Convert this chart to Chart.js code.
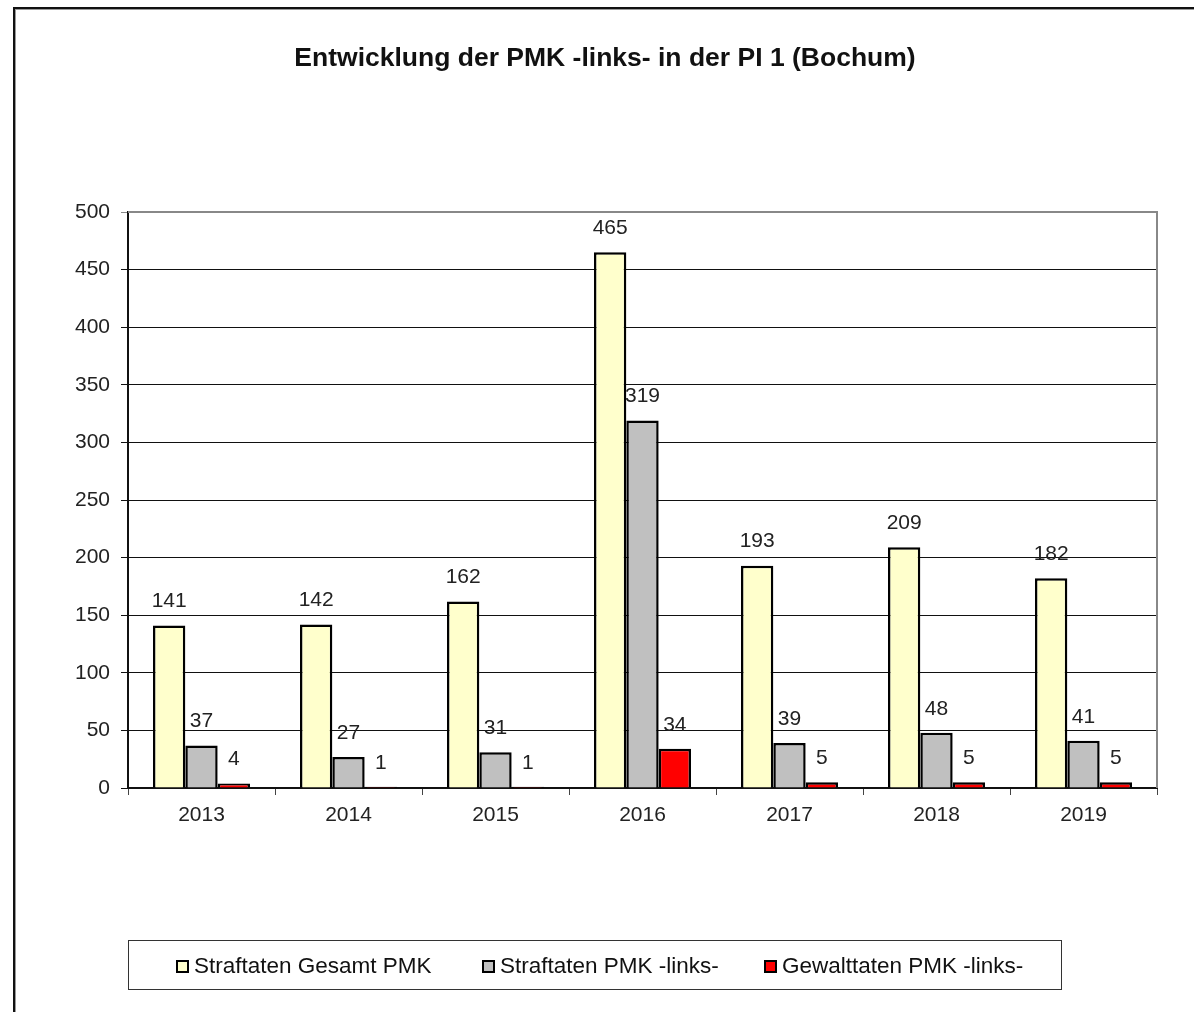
<!DOCTYPE html>
<html>
<head>
<meta charset="utf-8">
<script src="https://cdn.jsdelivr.net/npm/chart.js@4/dist/chart.umd.min.js"></script>
<style>
  html, body { margin: 0; padding: 0; background: #fff; }
  #wrap { position: relative; width: 1194px; height: 1012px; overflow: hidden; }
  #frame { position: absolute; left: 13px; top: 7px; width: 1300px; height: 1100px;
           border-left: 2px solid #111; border-top: 2px solid #111; box-shadow: 1px 1px 0 #999 inset; }
  #title { position: absolute; left: 0; top: 42px; width: 1210px; text-align: center;
           font-family: "Liberation Sans", Arial, sans-serif; font-weight: bold; font-size: 26.5px; color: #111; }
  #legend { position: absolute; left: 128px; top: 940px; width: 932px; height: 48px; box-sizing: content-box;
            border: 1px solid #333; font-family: "Liberation Sans", Arial, sans-serif; font-size: 22.5px; color: #111; }
  .item { display: flex; align-items: center; position: absolute; top: 12px; }
  .box { width: 9px; height: 9px; border: 2px solid #000; margin-right: 5px; }
  canvas { position: absolute; left: 0; top: 0; }
</style>
</head>
<body>
<div id="wrap">
  <div id="frame"></div>
  <canvas id="chart" width="1194" height="1012"></canvas>
  <div id="title">Entwicklung der PMK -links- in der PI 1 (Bochum)</div>
  <div id="legend"></div>
</div>
<script>
  // data
  var years = ['2013', '2014', '2015', '2016', '2017', '2018', '2019'];
  var gesamt = [141, 142, 162, 465, 193, 209, 182];
  var links = [37, 27, 31, 319, 39, 48, 41];
  var gewalt = [4, 1, 1, 34, 5, 5, 5];
  var seriesNames = ['Straftaten Gesamt PMK', 'Straftaten PMK -links-', 'Gewalttaten PMK -links-'];
  var seriesColors = ['#FFFFCC', '#C0C0C0', '#FF0000'];
  var yTicks = [0, 50, 100, 150, 200, 250, 300, 350, 400, 450, 500];

  var FONT = '"Liberation Sans", Arial, sans-serif';

  // value labels above bars
  var valueLabels = {
    id: 'valueLabels',
    afterDatasetsDraw: function (chart) {
      var ctx = chart.ctx;
      ctx.save();
      ctx.font = '21px ' + FONT;
      ctx.fillStyle = '#222';
      ctx.textAlign = 'center';
      ctx.textBaseline = 'middle';
      chart.data.datasets.forEach(function (ds, i) {
        chart.getDatasetMeta(i).data.forEach(function (bar, j) {
          ctx.fillText(String(ds.data[j]), bar.x, bar.y - 24);
        });
      });
      ctx.restore();
    }
  };

  // gray plot frame on top and right
  var plotFrame = {
    id: 'plotFrame',
    afterDraw: function (chart) {
      var a = chart.chartArea, ctx = chart.ctx;
      ctx.save();
      ctx.strokeStyle = '#888';
      ctx.lineWidth = 2;
      ctx.beginPath();
      ctx.moveTo(a.left, a.top);
      ctx.lineTo(a.right, a.top);
      ctx.lineTo(a.right, a.bottom);
      ctx.stroke();
      ctx.restore();
    }
  };

  var datasets = [gesamt, links, gewalt].map(function (d, i) {
    return {
      label: seriesNames[i],
      data: d,
      backgroundColor: seriesColors[i],
      borderColor: '#000',
      borderWidth: 2.5,
      borderSkipped: 'bottom',
      barPercentage: 1,
      categoryPercentage: 0.66
    };
  });

  new Chart(document.getElementById('chart'), {
    type: 'bar',
    data: { labels: years, datasets: datasets },
    plugins: [valueLabels, plotFrame],
    options: {
      responsive: false,
      animation: false,
      layout: { padding: { left: 20, right: 37, top: 212, bottom: 184 } },
      plugins: {
        legend: { display: false },
        tooltip: { enabled: false },
        title: { display: false }
      },
      scales: {
        x: {
          grid: { display: true, drawOnChartArea: false, drawTicks: true, tickLength: 7, color: '#444', offset: true },
          border: { color: '#111', width: 2 },
          ticks: { color: '#222', font: { family: FONT, size: 21 }, padding: 8 },
          afterFit: function (s) { s.height = 40; }
        },
        y: {
          min: 0,
          max: 500,
          afterBuildTicks: function (s) { s.ticks = yTicks.map(function (v) { return { value: v }; }); },
          grid: {
            color: function (c) { return c.tick && c.tick.value === 500 ? '#888' : '#111'; },
            lineWidth: 1,
            tickLength: 7
          },
          border: { color: '#111', width: 2 },
          ticks: { color: '#222', font: { family: FONT, size: 21 }, padding: 11 },
          afterFit: function (s) { s.width = 108; }
        }
      }
    }
  });

  // legend box, items placed like the reference
  var legend = document.getElementById('legend');
  var itemLeft = [47, 353, 635];
  seriesNames.forEach(function (name, i) {
    var item = document.createElement('div');
    item.className = 'item';
    item.style.left = itemLeft[i] + 'px';
    item.innerHTML = '<span class="box" style="background:' + seriesColors[i] + '"></span><span>' + name + '</span>';
    legend.appendChild(item);
  });
</script>
</body>
</html>
